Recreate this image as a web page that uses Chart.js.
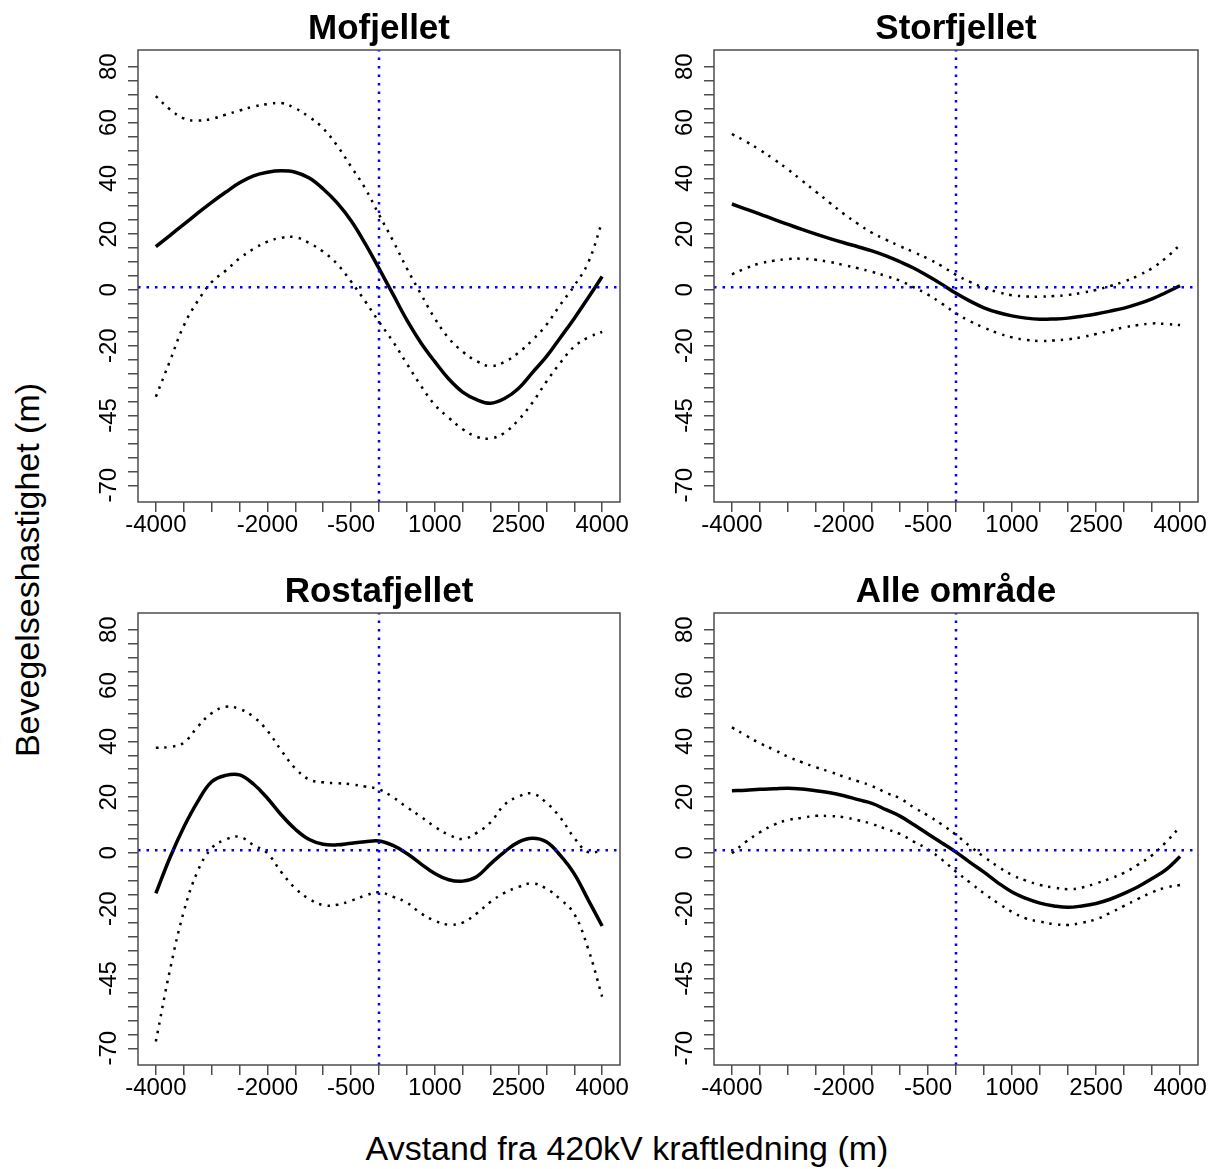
<!DOCTYPE html>
<html>
<head>
<meta charset="utf-8">
<script src="https://cdn.jsdelivr.net/npm/chart.js@4.4.1/dist/chart.umd.min.js"></script>
<style>
html,body{margin:0;padding:0;background:#fff;}
body{width:1213px;height:1169px;position:relative;overflow:hidden;font-family:"Liberation Sans",Arial,sans-serif;}
canvas{position:absolute;}
.axt{position:absolute;font-size:34px;line-height:1;color:#000;white-space:nowrap;}
#xt{left:627px;top:1131px;transform:translateX(-50%);}
#yt{left:27px;top:570px;transform:translate(-50%,-50%) rotate(-90deg);}
</style>
</head>
<body>
<canvas id="p0" width="590" height="565" style="left:60px;top:0px"></canvas>
<canvas id="p1" width="563" height="565" style="left:650px;top:0px"></canvas>
<canvas id="p2" width="590" height="545" style="left:60px;top:565px"></canvas>
<canvas id="p3" width="563" height="545" style="left:650px;top:565px"></canvas>
<div id="xt" class="axt">Avstand fra 420kV kraftledning (m)</div>
<div id="yt" class="axt">Bevegelseshastighet (m)</div>
<script>
// ---- data ----
const distance = [-4000,-3750,-3500,-3250,-3000,-2750,-2500,-2250,-2000,-1750,-1500,-1250,-1000,-750,-500,-250,0,250,500,750,1000,1250,1500,1750,2000,2250,2500,2750,3000,3250,3500,3750,4000];
const xTickValues = [-4000,-3500,-3000,-2500,-2000,-1500,-1000,-500,0,500,1000,1500,2000,2500,3000,3500,4000];
const xTickLabels = [-4000,-2000,-500,1000,2500,4000];
const yTickValues = [80,75,70,65,60,55,50,45,40,35,30,25,20,15,10,5,0,-5,-10,-15,-20,-25,-30,-35,-40,-45,-50,-55,-60,-65,-70];
const yTickLabels = [80,60,40,20,0,-20,-45,-70];
const panelTitles = ['Mofjellet','Storfjellet','Rostafjellet','Alle område'];
const refX = 0;
const refY = 1;

const mofjelletFit   = [15.5,19.5,23.5,27.5,31.4,35.0,38.4,40.9,42.2,42.7,42.2,40.1,36.2,31.2,24.8,16.7,7.7,-1.5,-10.8,-18.9,-25.7,-31.9,-36.6,-39.3,-40.6,-38.9,-35.3,-29.6,-23.9,-17.1,-10.2,-2.8,4.8];
const mofjelletUpper = [69.5,64.8,61.5,60.7,61.3,62.8,64.3,65.7,66.6,67.0,65.1,62.0,57.9,51.7,44.2,36.5,27.0,17.7,7.7,-1.4,-10.2,-17.3,-22.1,-25.5,-27.3,-25.8,-22.5,-18.0,-12.5,-5.3,1.5,9.8,24.5];
const mofjelletLower = [-38.3,-25.6,-12.8,-4.0,2.8,6.9,11.3,14.7,17.3,18.7,18.9,16.8,13.7,9.3,3.0,-4.0,-11.4,-18.5,-26.5,-34.3,-41.2,-45.8,-49.9,-52.6,-53.2,-51.2,-46.6,-40.4,-32.9,-26.1,-20.3,-17.0,-15.0];

const storfjelletFit   = [30.8,29.0,27.2,25.3,23.5,21.7,20.0,18.4,16.9,15.5,14.0,12.2,10.1,7.8,5.0,2.0,-1.2,-4.0,-6.4,-8.1,-9.3,-10.1,-10.5,-10.4,-10.1,-9.4,-8.6,-7.6,-6.5,-5.0,-3.2,-0.9,1.5];
const storfjelletUpper = [55.9,53.2,50.2,46.8,43.2,39.2,35.2,31.2,27.2,23.7,20.5,18.0,15.7,13.5,11.2,8.5,5.4,2.9,0.8,-0.8,-1.9,-2.3,-2.4,-2.2,-1.8,-1.0,0.0,1.4,3.0,5.1,7.8,11.5,16.2];
const storfjelletLower = [5.6,7.8,9.5,10.5,11.1,11.2,10.8,10.0,8.9,7.8,6.5,5.0,3.3,0.9,-1.7,-4.9,-8.4,-11.2,-13.5,-15.5,-17.0,-17.9,-18.3,-18.1,-17.7,-16.9,-15.8,-14.6,-13.4,-12.6,-12.0,-12.2,-12.6];

const rostafjelletFit   = [-14.5,-1.8,9.2,18.4,25.5,27.8,28.0,24.7,19.6,13.6,8.5,4.8,3.1,2.9,3.5,4.0,4.3,2.7,-0.2,-3.9,-7.4,-9.6,-10.1,-8.5,-3.9,0.4,3.9,5.3,4.0,-0.9,-7.5,-16.8,-26.2];
const rostafjelletUpper = [37.7,38.0,39.5,45.2,50.1,52.4,51.6,48.8,43.8,36.7,30.3,26.3,25.3,25.0,24.6,23.8,22.8,20.0,16.4,13.0,9.4,6.5,5.0,7.2,11.0,17.3,20.2,21.3,18.0,12.7,5.4,0.3,0.8];
const rostafjelletLower = [-67.6,-42.2,-21.1,-6.5,1.7,4.8,5.8,2.8,-0.1,-6.9,-12.7,-16.5,-18.7,-18.6,-17.1,-15.3,-14.1,-15.7,-17.8,-21.6,-24.3,-25.7,-25.0,-21.7,-17.5,-14.3,-12.2,-10.9,-12.8,-16.6,-21.8,-34.4,-51.5];

const alleFit   = [22.3,22.5,22.8,23.0,23.2,22.9,22.3,21.6,20.5,19.1,17.8,15.5,13.2,10.1,6.8,3.6,0.3,-3.4,-6.9,-10.7,-14.0,-16.3,-18.0,-19.0,-19.5,-19.0,-18.1,-16.6,-14.5,-12.1,-9.2,-6.0,-1.3];
const alleUpper = [45.0,42.1,39.3,37.0,34.5,32.5,30.7,29.1,27.3,25.7,24.0,21.6,19.6,16.3,13.4,10.2,6.5,2.4,-1.4,-4.9,-7.9,-9.9,-11.5,-12.4,-13.0,-12.4,-10.9,-9.2,-7.1,-4.2,-0.8,3.9,9.4];
const alleLower = [-0.1,4.0,7.4,10.1,11.8,12.6,13.3,13.2,12.8,11.7,10.4,8.6,6.8,4.0,1.3,-2.4,-6.7,-10.6,-14.5,-18.0,-21.1,-23.5,-24.6,-25.5,-25.8,-25.0,-23.8,-21.5,-19.0,-16.5,-14.1,-12.4,-11.5];

const panelSeries = [
  [mofjelletFit, mofjelletUpper, mofjelletLower],
  [storfjelletFit, storfjelletUpper, storfjelletLower],
  [rostafjelletFit, rostafjelletUpper, rostafjelletLower],
  [alleFit, alleUpper, alleLower]
];

// ---- layout (pixels) ----
const X_MIN = -4320, X_MAX = 4320, Y_MIN = -76, Y_MAX = 86;
const canvasRects = [
  {x:60, y:0, w:590, h:565},
  {x:650, y:0, w:563, h:565},
  {x:60, y:565, w:590, h:545},
  {x:650, y:565, w:563, h:545}
];
const boxes = [
  {l:138, t:50, r:620, b:502},
  {l:714, t:50, r:1198, b:502},
  {l:138, t:613, r:620, b:1065},
  {l:714, t:613, r:1198, b:1065}
];
const Y_AXIS_W = 50, X_AXIS_H = 45, TITLE_H = 38;

Chart.defaults.font.family = '"Liberation Sans", Arial, sans-serif';
Chart.defaults.color = '#000';

const boxPlugin = {
  id: 'plotBox',
  afterDraw(chart) {
    const {ctx, chartArea: a} = chart;
    ctx.save();
    ctx.strokeStyle = '#4d4d4d';
    ctx.lineWidth = 1.5;
    ctx.strokeRect(a.left, a.top, a.right - a.left, a.bottom - a.top);
    ctx.restore();
  }
};

function toPoints(vals) {
  return distance.map((d, i) => ({x: d, y: vals[i]}));
}

for (let p = 0; p < 4; p++) {
  const cr = canvasRects[p], bx = boxes[p];
  const [fit, upper, lower] = panelSeries[p];
  const ciStyle = {borderColor:'#000', borderWidth:2.5, borderDash:[2.5,6], borderCapStyle:'butt', pointRadius:0, tension:0.4, fill:false, order:2};
  const refStyle = {borderColor:'#0000ff', borderWidth:2.5, borderDash:[2.5,6], borderCapStyle:'butt', pointRadius:0, tension:0, fill:false, order:0};
  new Chart(document.getElementById('p' + p), {
    type: 'line',
    data: {
      datasets: [
        Object.assign({label:'h', data:[{x:X_MIN, y:refY},{x:X_MAX, y:refY}]}, refStyle),
        Object.assign({label:'v', data:[{x:refX, y:Y_MIN},{x:refX, y:Y_MAX}]}, refStyle),
        {label:'fit', data: toPoints(fit), borderColor:'#000', borderWidth:3.5, pointRadius:0, tension:0.4, fill:false, order:1},
        Object.assign({label:'upper', data: toPoints(upper)}, ciStyle),
        Object.assign({label:'lower', data: toPoints(lower)}, ciStyle)
      ]
    },
    options: {
      responsive: false,
      maintainAspectRatio: false,
      animation: false,
      events: [],
      layout: {
        padding: {
          left: (bx.l - cr.x) - Y_AXIS_W,
          right: (cr.x + cr.w) - bx.r,
          top: (bx.t - cr.y) - TITLE_H,
          bottom: (cr.y + cr.h) - bx.b - X_AXIS_H
        }
      },
      plugins: {
        legend: {display:false},
        tooltip: {enabled:false},
        title: {
          display: true,
          text: panelTitles[p],
          fullSize: false,
          color: '#000',
          font: {size:35, weight:'bold', lineHeight:1},
          padding: {top:0, bottom:3}
        }
      },
      scales: {
        x: {
          type: 'linear',
          position: 'bottom',
          min: X_MIN, max: X_MAX,
          afterBuildTicks: s => { s.ticks = xTickValues.map(v => ({value:v})); },
          afterFit: s => { s.height = X_AXIS_H; },
          border: {display:false},
          grid: {display:true, drawOnChartArea:false, drawTicks:true, tickLength:10, color:'#4d4d4d', lineWidth:1.5},
          ticks: {
            autoSkip:false, maxRotation:0, minRotation:0, padding:1, color:'#000',
            font:{size:24, lineHeight:1},
            callback: v => xTickLabels.includes(v) ? String(v) : ''
          }
        },
        y: {
          type: 'linear',
          position: 'left',
          min: Y_MIN, max: Y_MAX,
          afterBuildTicks: s => { s.ticks = yTickValues.map(v => ({value:v})); },
          afterFit: s => { s.width = Y_AXIS_W; },
          border: {display:false},
          grid: {display:true, drawOnChartArea:false, drawTicks:true, tickLength:10, color:'#4d4d4d', lineWidth:1.5},
          ticks: {
            autoSkip:false, minRotation:90, maxRotation:90, crossAlign:'center', padding:1, color:'#000',
            font:{size:24, lineHeight:1},
            callback: v => yTickLabels.includes(v) ? String(v) : ''
          }
        }
      }
    },
    plugins: [boxPlugin]
  });
}
</script>
</body>
</html>
